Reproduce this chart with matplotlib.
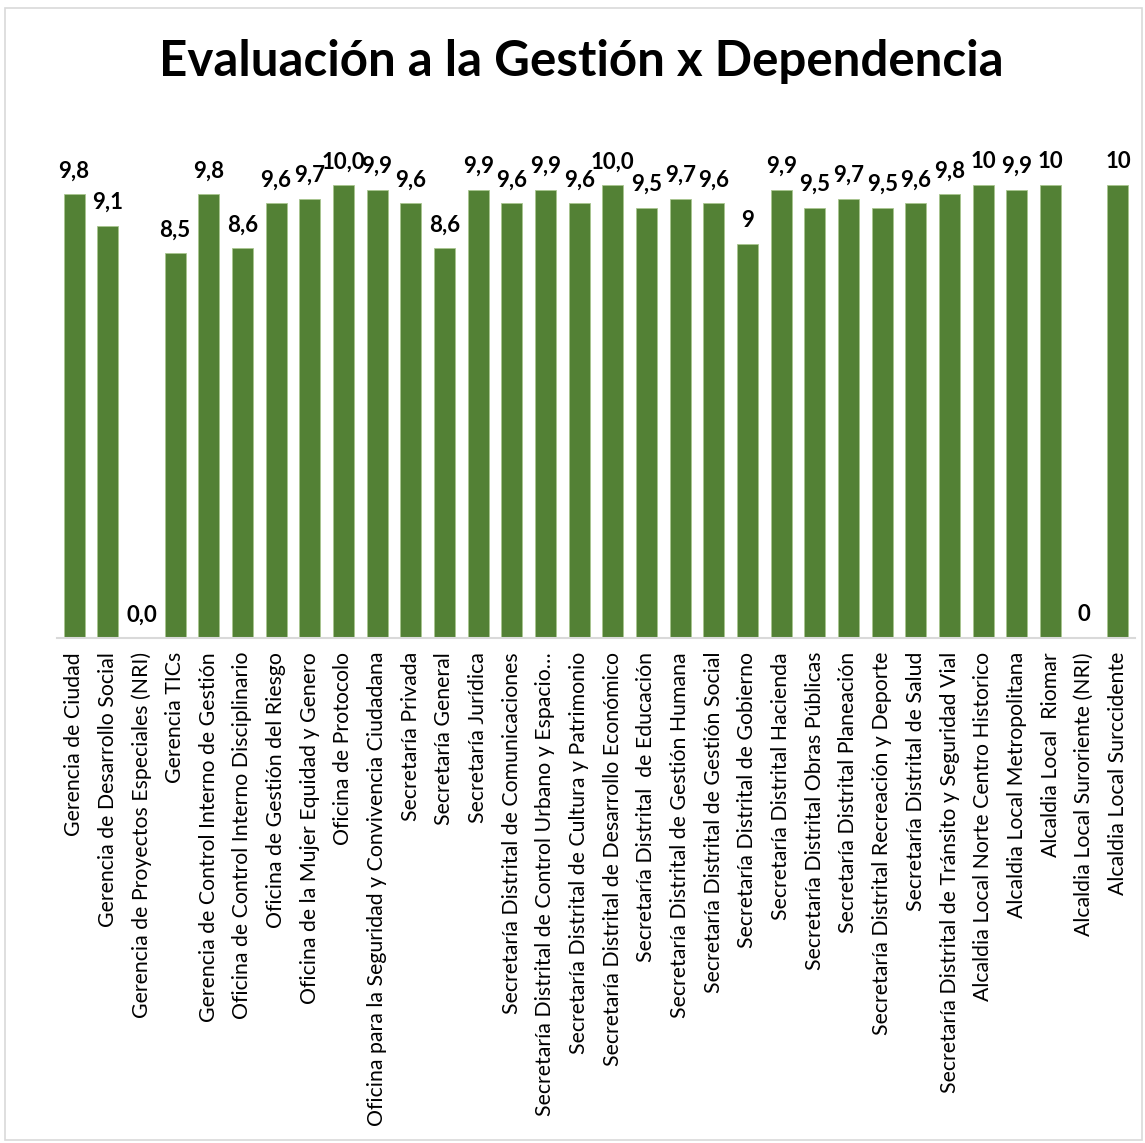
import matplotlib.pyplot as plt
from matplotlib.patches import Rectangle
import numpy as np

plt.rcParams['font.family'] = ['Lato', 'DejaVu Sans']

# Data
categories = [
    'Gerencia de Ciudad',
    'Gerencia de Desarrollo Social',
    'Gerencia de Proyectos Especiales (NRI)',
    'Gerencia TICs',
    'Gerencia de Control Interno de Gestión',
    'Oficina de Control Interno Disciplinario',
    'Oficina de Gestión del Riesgo',
    'Oficina de la Mujer Equidad y Genero',
    'Oficina de Protocolo',
    'Oficina para la Seguridad y Convivencia Ciudadana',
    'Secretaría Privada',
    'Secretaría General',
    'Secretaría Jurídica',
    'Secretaría Distrital de Comunicaciones',
    'Secretaría Distrital de Control Urbano y Espacio…',
    'Secretaría Distrital de Cultura y Patrimonio',
    'Secretaría Distrital de Desarrollo Económico',
    'Secretaría Distrital  de Educación',
    'Secretaría Distrital de Gestión Humana',
    'Secretaría Distrital de Gestión Social',
    'Secretaría Distrital de Gobierno',
    'Secretaría Distrital Hacienda',
    'Secretaría Distrital Obras Públicas',
    'Secretaría Distrital Planeación',
    'Secretaría Distrital Recreación y Deporte',
    'Secretaría Distrital de Salud',
    'Secretaría Distrital de Tránsito y Seguridad Vial',
    'Alcaldia Local Norte Centro Historico',
    'Alcaldia Local Metropolitana',
    'Alcaldia Local  Riomar',
    'Alcaldia Local Suroriente (NRI)',
    'Alcaldia Local Surccidente',
]
values = [9.8, 9.1, 0.0, 8.5, 9.8, 8.6, 9.6, 9.7, 10.0, 9.9, 9.6, 8.6, 9.9, 9.6, 9.9, 9.6,
          10.0, 9.5, 9.7, 9.6, 8.7, 9.9, 9.5, 9.7, 9.5, 9.6, 9.8, 10.0, 9.9, 10.0, 0.0, 10.0]
value_labels = ['9,8', '9,1', '0,0', '8,5', '9,8', '8,6', '9,6', '9,7', '10,0', '9,9', '9,6', '8,6',
                '9,9', '9,6', '9,9', '9,6', '10,0', '9,5', '9,7', '9,6', '9', '9,9', '9,5', '9,7',
                '9,5', '9,6', '9,8', '10', '9,9', '10', '0', '10']

bar_color = '#538135'

fig = plt.figure(figsize=(11.45, 11.43), dpi=100)
fig.patch.set_facecolor('white')

# thin outer border like the spreadsheet chart area
fig.add_artist(Rectangle((0.004, 0.003), 0.993, 0.990, transform=fig.transFigure,
                         fill=False, edgecolor='#d9d9d9', linewidth=1.2))

ax = fig.add_axes([0.050, 0.4418, 0.941, 0.436])
x = np.arange(len(categories))
bars = ax.bar(x, values, width=0.62, color=bar_color, edgecolor='#a9c68f', linewidth=0.6)

for rect, lab in zip(bars, value_labels):
    ax.annotate(lab, (rect.get_x() + rect.get_width() / 2, rect.get_height()),
                xytext=(0, 12), textcoords='offset points', ha='center', va='baseline',
                fontsize=16, fontweight='bold', color='black')

ax.set_xlim(-0.5, len(categories) - 0.5)
ax.set_ylim(0, 11)
ax.set_xticks(x)
ax.set_xticklabels(categories, rotation=90, fontsize=15.3, color='black')
ax.tick_params(axis='x', length=0, pad=10)
ax.set_yticks([])
for side in ['top', 'right', 'left']:
    ax.spines[side].set_visible(False)
ax.spines['bottom'].set_color('#d9d9d9')
ax.spines['bottom'].set_linewidth(1.5)

fig.text(0.508, 0.946, 'Evaluación a la Gestión x Dependencia', ha='center', va='center',
         fontsize=35.5, fontweight='bold', color='black')

fig.savefig('out.png', dpi=100, facecolor='white')
